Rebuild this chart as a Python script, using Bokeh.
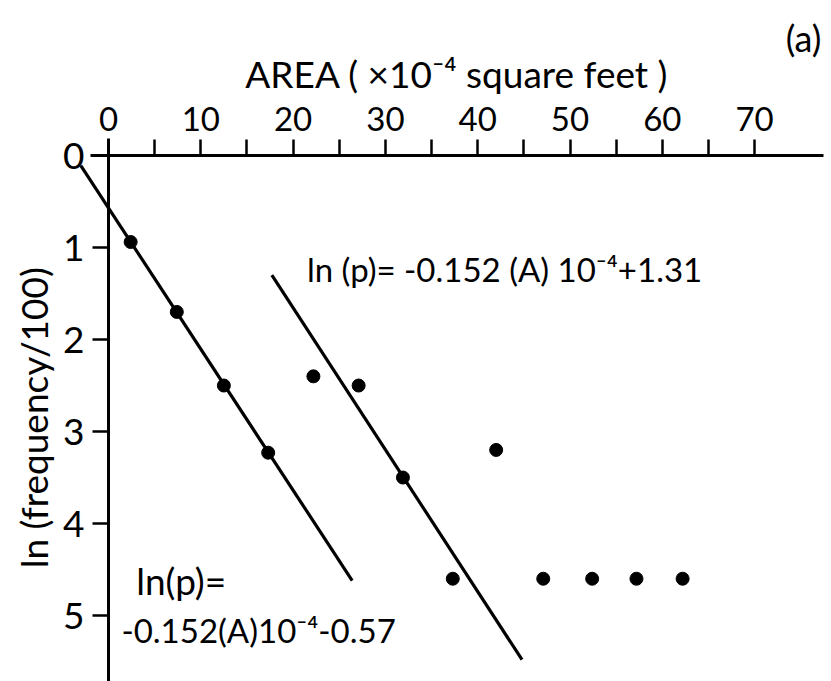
import math
from bokeh.plotting import figure
from bokeh.models import Range1d, FixedTicker
from bokeh.embed import file_html
from bokeh.resources import INLINE
from bokeh.core.properties import value

# ---- data ----
area = [2.4, 7.4, 12.5, 17.3, 22.2, 27.1, 31.9, 37.3, 42.0, 47.1, 52.4, 57.2, 62.2]
ln_freq = [0.94, 1.70, 2.50, 3.23, 2.40, 2.50, 3.50, 4.60, 3.20, 4.60, 4.60, 4.60, 4.60]

fit1_area = [-3.0, 26.4]
fit1_ln = [0.11, 4.62]
fit2_area = [17.7, 44.8]
fit2_ln = [1.30, 5.48]

x_ticks = [0, 10, 20, 30, 40, 50, 60, 70]
x_minor_ticks = [5, 15, 25, 35, 45, 55, 65]
y_ticks = [0, 1, 2, 3, 4, 5]

x_title = "AREA ( \u00d710\u207b\u2074 square feet )"
y_title = "ln (frequency/100)"
eq_upper = "ln (p)= -0.152 (A) 10\u207b\u2074+1.31"
eq_lower_1 = "ln(p)="
eq_lower_2 = "-0.152(A)10\u207b\u2074-0.57"
panel_tag = "(a)"

FONT = "Lato"

p = figure(width=831, height=681,
           x_range=Range1d(-11.70, 78.33), y_range=Range1d(5.717, -1.685),
           x_axis_location="above", y_axis_location="left",
           output_backend="svg", toolbar_location=None, min_border=0)
p.outline_line_color = None
p.grid.visible = False
p.background_fill_color = "white"
p.border_fill_color = "white"

# x axis (top, crossing at y=0)
xa = p.xaxis[0]
xa.fixed_location = 0
xa.ticker = FixedTicker(ticks=x_ticks, minor_ticks=x_minor_ticks)
xa.bounds = (-2, 77.5)
xa.axis_line_width = 3
xa.axis_line_color = "black"
xa.major_tick_in = 0
xa.major_tick_out = 16
xa.minor_tick_in = 0
xa.minor_tick_out = 16
xa.major_tick_line_width = 2.5
xa.minor_tick_line_width = 2.5
xa.major_tick_line_color = "black"
xa.minor_tick_line_color = "black"
xa.major_label_text_font = FONT
xa.major_label_text_font_size = "33px"
xa.major_label_text_color = "black"
xa.major_label_standoff = 9
xa.axis_label = x_title
xa.axis_label_text_font = FONT
xa.axis_label_text_font_size = "37px"
xa.axis_label_text_font_style = "normal"
xa.axis_label_text_color = "black"
xa.axis_label_standoff = 8

# y axis (left, crossing at x=0)
ya = p.yaxis[0]
ya.fixed_location = 0
ya.ticker = FixedTicker(ticks=y_ticks, minor_ticks=[])
ya.bounds = (-0.19, 5.72)
ya.axis_line_width = 3
ya.axis_line_color = "black"
ya.major_tick_in = 0
ya.major_tick_out = 16
ya.major_tick_line_width = 2.5
ya.major_tick_line_color = "black"
ya.minor_tick_line_color = None
ya.major_label_text_font = FONT
ya.major_label_text_font_size = "37px"
ya.major_label_text_color = "black"
ya.major_label_standoff = 8

# fitted lines
p.line(fit1_area, fit1_ln, line_color="black", line_width=3.2)
p.line(fit2_area, fit2_ln, line_color="black", line_width=3.2)

# points
p.scatter(area, ln_freq, size=13, marker="circle", fill_color="black", line_color="black")

# texts
p.text(x=[21.5], y=[1.23], text=[eq_upper], text_font=value(FONT),
       text_font_size="33px", text_align="left", text_baseline="alphabetic", text_color="black")
p.text(x=[3.0], y=[4.62], text=[eq_lower_1], text_font=value(FONT),
       text_font_size="37px", text_align="left", text_baseline="alphabetic", text_color="black")
p.text(x=[1.4], y=[5.16], text=[eq_lower_2], text_font=value(FONT),
       text_font_size="33px", text_align="left", text_baseline="alphabetic", text_color="black")
p.text(x=[75.3], y=[-1.28], text=[panel_tag], text_font=value(FONT),
       text_font_size="36px", text_align="center", text_baseline="middle", text_color="black")
p.text(x=[-8.13], y=[2.85], text=[y_title], text_font=value(FONT),
       text_font_size="37px", text_align="center", text_baseline="middle",
       angle=math.pi / 2, text_color="black")

open("out.html", "w").write(file_html(p, INLINE))
